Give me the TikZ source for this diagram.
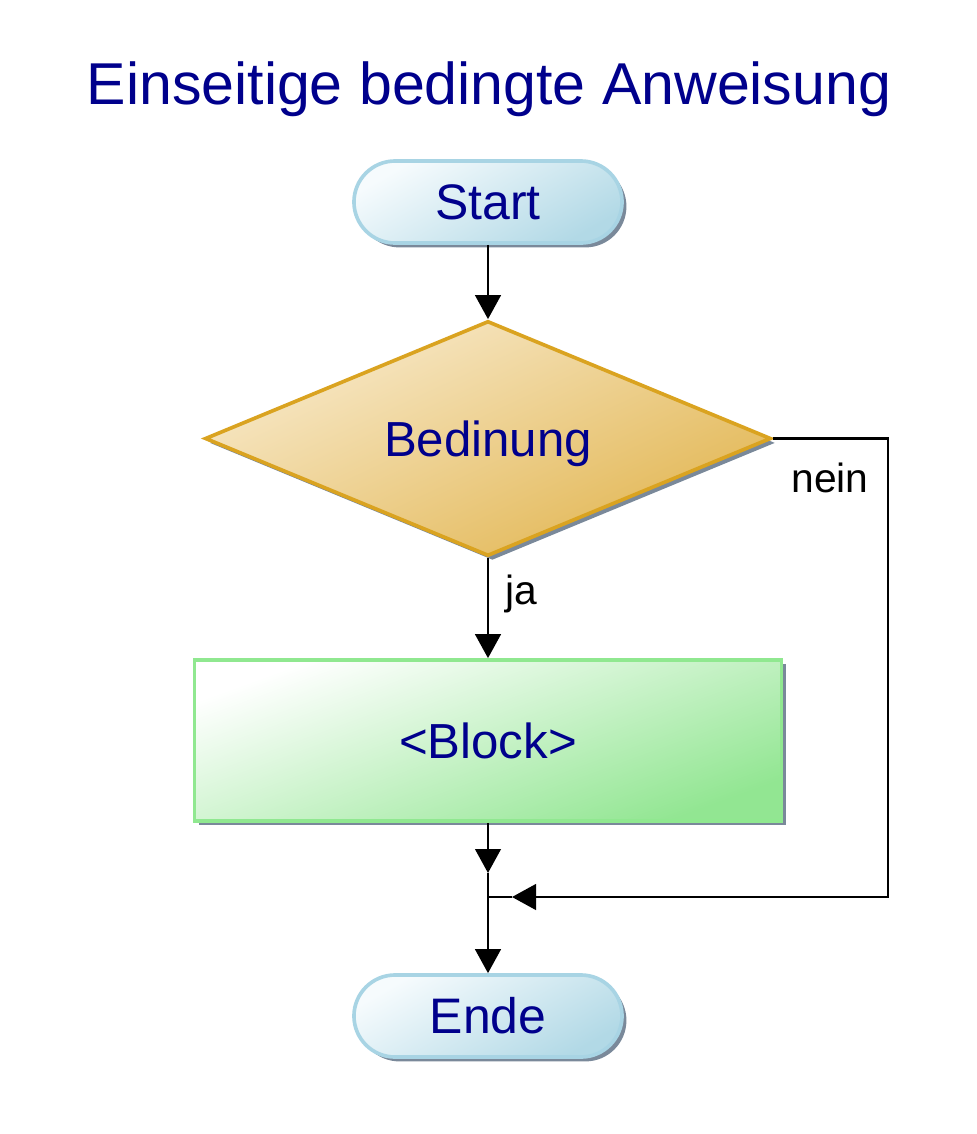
\documentclass[tikz,border=0pt]{standalone}
\usepackage{fontspec}
\setmainfont{Liberation Sans}
\usepackage{tikz}
\usetikzlibrary{shapes.geometric}
\usetikzlibrary{shapes.misc}
\usetikzlibrary{shadows}
\usetikzlibrary{arrows.meta}

\definecolor{textblue}{RGB}{0,0,140}
\definecolor{termline}{RGB}{168,212,228}
\definecolor{termlight}{RGB}{246,251,253}
\definecolor{termdark}{RGB}{178,217,230}
\definecolor{condline}{RGB}{218,163,32}
\definecolor{condlight}{RGB}{248,234,204}
\definecolor{conddark}{RGB}{226,182,82}
\definecolor{blockline}{RGB}{144,232,144}
\definecolor{blockdark}{RGB}{146,230,146}
\definecolor{shadowgray}{RGB}{122,137,154}

\begin{document}
\begin{tikzpicture}[x=0.025cm,y=-0.025cm,
  shade/.style={drop shadow={shadow xshift=0.11cm,shadow yshift=-0.11cm,fill=shadowgray,opacity=1}},
  terminal/.style={rounded rectangle,draw=termline,line width=2.6pt,shade,
    top color=termlight,bottom color=termdark,shading angle=30,
    minimum width=6.7cm,minimum height=2.05cm,inner sep=0pt,
    text=textblue,font=\fontsize{35.5}{40}\selectfont},
  decision/.style={diamond,draw=condline,line width=2.6pt,shade,
    top color=condlight,bottom color=conddark,shading angle=25,
    aspect=2.41,minimum width=14.15cm,minimum height=5.875cm,inner sep=0pt,
    text=textblue,font=\fontsize{35}{40}\selectfont,text depth=0pt},
  process/.style={rectangle,draw=blockline,line width=2.6pt,shade,
    top color=white,bottom color=blockdark,shading angle=20,
    minimum width=14.675cm,minimum height=4.025cm,inner sep=0pt,
    text=textblue,font=\fontsize{35}{40}\selectfont},
  branch/.style={font=\fontsize{29}{34}\selectfont,text=black},
  flow/.style={line width=1.8pt},
  arr/.style={flow,-{Triangle[length=0.6cm,width=0.64cm]}}]

\useasboundingbox (0,0) rectangle (977,1134);

% title
\node[anchor=base,text=textblue,font=\fontsize{42}{50}\selectfont] (title) at (489,104) {Einseitige bedingte Anweisung};

% shapes
\node[terminal] (start) at (488,202) {Start};
\node[decision] (cond) at (488,438.5) {Bedinung};
\node[process] (block) at (488,740.5) {<Block>};
\node[terminal] (ende) at (488,1016) {Ende};

% labels
\node[branch] (ja) at (521,594) {ja};
\node[branch] (nein) at (830,478) {nein};

% points on the paths
\coordinate (tipA) at (488,873);
\coordinate (tipB) at (512,897);
\coordinate (merge) at (488,897);
\coordinate (loop) at (888,897);

% connectors
\draw[arr] (start.south) -- (cond.north);
\draw[arr] (cond.south) -- (block.north);
\draw[arr] (block.south) -- (tipA);
\draw[flow] (tipA) -- (merge);
\draw[arr] (cond.east) -| (loop) -- (tipB);
\draw[flow] (tipB) -- (merge);
\draw[arr] (merge) -- (ende.north);

\end{tikzpicture}
\end{document}
